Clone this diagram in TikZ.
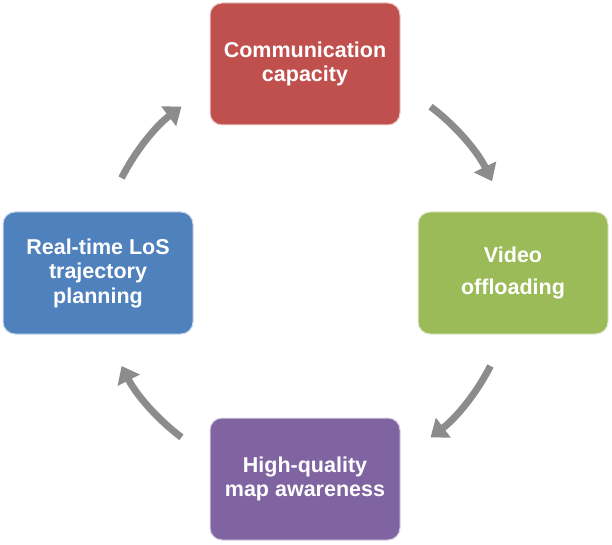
\documentclass[tikz,border=0pt]{standalone}
\usepackage{fontspec}
\setmainfont{Liberation Sans}
\usetikzlibrary{arrows.meta}
\definecolor{cred}{HTML}{C0504D}
\definecolor{cgreen}{HTML}{9BBB59}
\definecolor{cpurple}{HTML}{8064A2}
\definecolor{cblue}{HTML}{4F81BD}
\definecolor{carr}{HTML}{8C8C8C}
\begin{document}
\begin{tikzpicture}[x=1pt,y=1pt,
  box/.style={draw=white!70!#1,line width=1pt,fill=#1,rounded corners=12pt,minimum width=190pt,minimum height=122pt,align=center,text=white,font=\fontsize{21.5}{24.5}\selectfont\bfseries},
  arr/.style={draw=carr,line width=7pt,-{Triangle[length=16pt,width=24pt]}}]
\useasboundingbox (0,0) rectangle (612,544);
\node[box=cred] (t) at (305,480) {Communication\\capacity};
\node[box=cgreen] (r) at (513,271) {Video\\[8pt]offloading};
\node[box=cpurple] (b) at (305,65) {High-quality\\map awareness};
\node[box=cblue] (l) at (98,271) {Real-time LoS\\trajectory\\planning};
\coordinate (c) at (306,272);
\draw[arr] ([shift={(53:207)}]c) arc (53:26:207);
\draw[arr] ([shift={(-27:207)}]c) arc (-27:-53:207);
\draw[arr] ([shift={(-127:207)}]c) arc (-127:-153:207);
\draw[arr] ([shift={(153:207)}]c) arc (153:127:207);
\end{tikzpicture}
\end{document}
